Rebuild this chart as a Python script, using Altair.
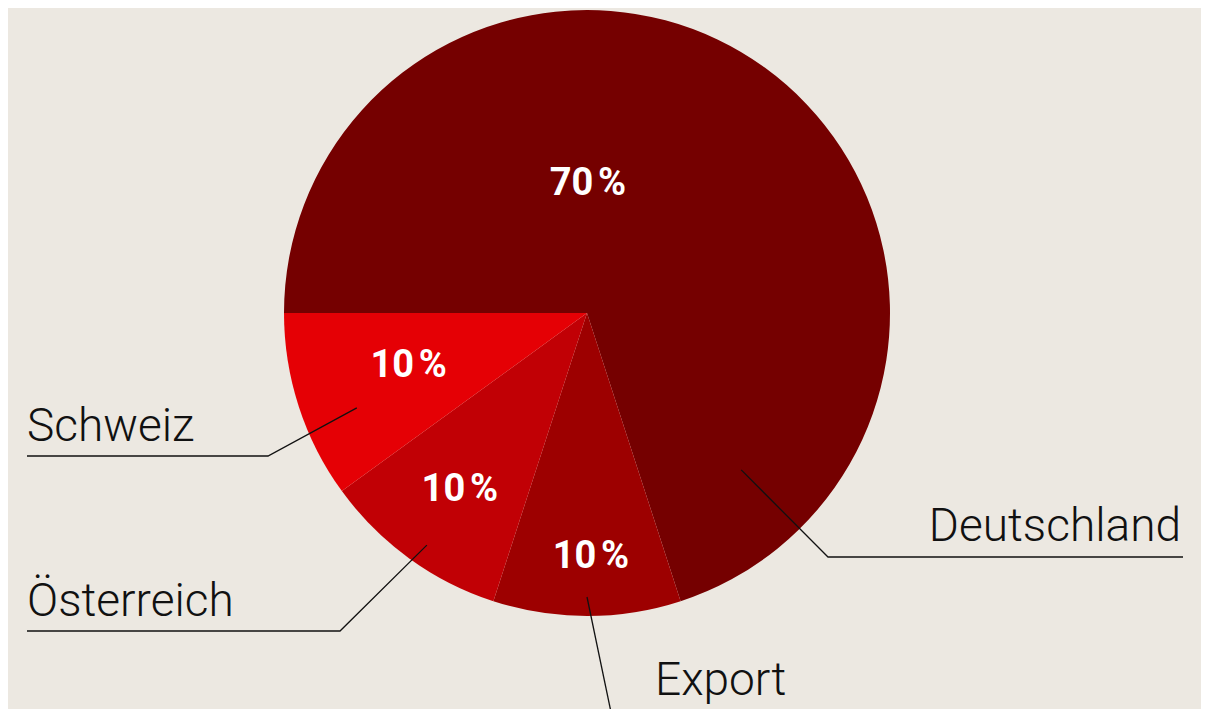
import math
import altair as alt
import pandas as pd

# ---- data ----
categories = ["Deutschland", "Export", "Österreich", "Schweiz"]
shares = [70, 10, 10, 10]
pct_labels = ["70\u202f%", "10\u202f%", "10\u202f%", "10\u202f%"]
colors = ["#750000", "#9d0000", "#c10005", "#e50005"]

# ---- layout (pixels in chart space) ----
W, H = 1193, 701
CX, CY, R = 579, 305, 303
START = 1.5 * math.pi  # first slice starts at 9 o'clock

# percent label placement (angle in degrees clockwise from 12 o'clock, radius)
pct_angle = [0.4, 179.1, 215.7, 253.4]
pct_radius = [129, 244, 218, 186]
# leader start (polar), elbow, end of horizontal rule
lead_angle = [135.5, 180.0, 214.6, 247.6]
lead_radius = [220, 284, 282, 249]
elbow_xy = [(820, 549), (604, 709), (332, 623), (260, 448)]
end_x = [1175, None, 19, 19]
name_xy = [(1173, 533), (647, 687), (19, 608), (19, 433)]
name_align = ["right", "left", "left", "left"]


def polar(a_deg, r):
    a = math.radians(a_deg)
    return CX + r * math.sin(a), CY - r * math.cos(a)


pie = pd.DataFrame({"cat": categories, "share": shares, "ord": list(range(len(categories)))})

pct_rows = []
for c, t, a, r in zip(categories, pct_labels, pct_angle, pct_radius):
    x, y = polar(a, r)
    pct_rows.append({"cat": c, "txt": t, "x": x, "y": y})
pct_df = pd.DataFrame(pct_rows)

line_rows = []
for c, a, r, (ex, ey), xe in zip(categories, lead_angle, lead_radius, elbow_xy, end_x):
    sx, sy = polar(a, r)
    line_rows.append({"cat": c, "i": 0, "x": sx, "y": sy})
    line_rows.append({"cat": c, "i": 1, "x": ex, "y": ey})
    if xe is not None:
        line_rows.append({"cat": c, "i": 2, "x": xe, "y": ey})
line_df = pd.DataFrame(line_rows)

name_rows = [{"cat": c, "x": x, "y": y, "al": al} for c, (x, y), al in zip(categories, name_xy, name_align)]
name_df = pd.DataFrame(name_rows)

xs = alt.Scale(domain=[0, W], range=[0, W], nice=False, zero=False)
ys = alt.Scale(domain=[0, H], range=[0, H], nice=False, zero=False)

arcs = alt.Chart(pie).mark_arc(outerRadius=R, stroke=None).encode(
    theta=alt.Theta("share:Q", stack=True, scale=alt.Scale(range=[START, START + 2 * math.pi])),
    order=alt.Order("ord:Q"),
    color=alt.Color("cat:N", scale=alt.Scale(domain=categories, range=colors), legend=None),
    x=alt.value(CX),
    y=alt.value(CY),
)

lines = alt.Chart(line_df).mark_line(color="#111111", strokeWidth=1.3, clip=True).encode(
    x=alt.X("x:Q", scale=xs, axis=None),
    y=alt.Y("y:Q", scale=ys, axis=None),
    detail="cat:N",
    order="i:Q",
)

pct_text = alt.Chart(pct_df).mark_text(
    font="Roboto", fontWeight="bold", fontSize=38, color="white", baseline="middle", align="center"
).encode(
    x=alt.X("x:Q", scale=xs, axis=None),
    y=alt.Y("y:Q", scale=ys, axis=None),
    text="txt:N",
)

name_left = alt.Chart(name_df[name_df.al == "left"]).mark_text(
    font="Roboto", fontWeight=300, fontSize=46, color="#111111", baseline="alphabetic", align="left"
).encode(
    x=alt.X("x:Q", scale=xs, axis=None),
    y=alt.Y("y:Q", scale=ys, axis=None),
    text="cat:N",
)
name_right = alt.Chart(name_df[name_df.al == "right"]).mark_text(
    font="Roboto", fontWeight=300, fontSize=46, color="#111111", baseline="alphabetic", align="right"
).encode(
    x=alt.X("x:Q", scale=xs, axis=None),
    y=alt.Y("y:Q", scale=ys, axis=None),
    text="cat:N",
)

chart = (
    alt.layer(arcs, lines, pct_text, name_left, name_right)
    .properties(width=W, height=H, background="#ece8e1", padding=0)
    .configure_view(stroke=None)
)

chart.save("out.html", embed_options={"renderer": "svg", "actions": False})
